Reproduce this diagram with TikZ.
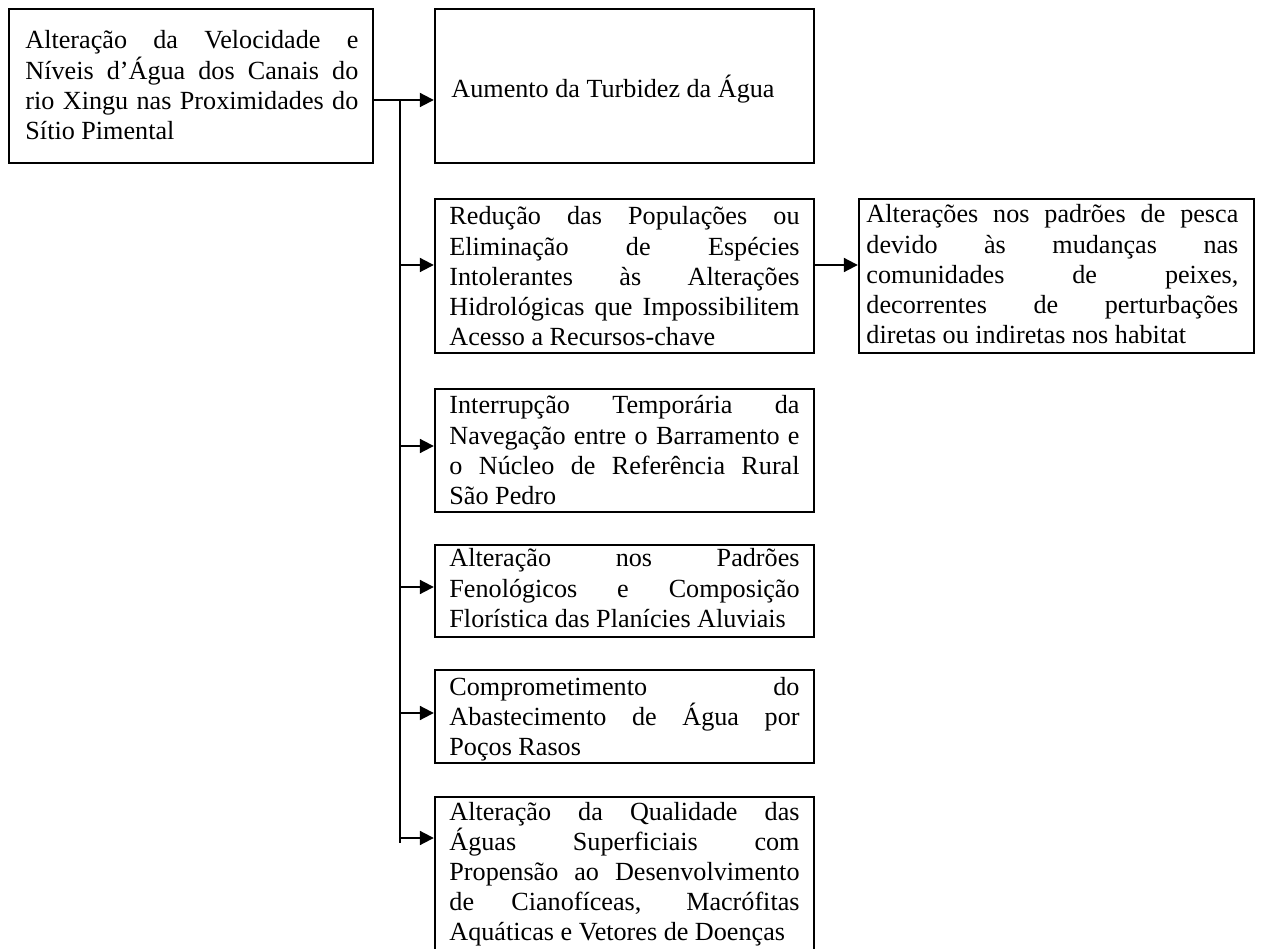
\documentclass[tikz,border=0pt]{standalone}
\usepackage{fontspec}
\setmainfont{Liberation Serif}
\usetikzlibrary{arrows.meta,fit}
\begin{document}
\begin{tikzpicture}[x=0.4587pt, y=-0.4587pt,
  box/.style={draw, line width=1.1pt, inner sep=0pt, rectangle},
  txt/.style={anchor=base west, inner sep=0pt, align=justify,
    font=\fontsize{12pt}{13.8pt}\selectfont},
  conn/.style={line width=0.9pt},
  arr/.style={conn, -{Triangle[length=6.4pt, width=6.4pt]}}]
\useasboundingbox (0,0) rectangle (1261,949);

% boxes
\node[box, fit={(9,9) (373,163)}] (a) {};
\node[box, fit={(435,9) (814,163)}] (b) {};
\node[box, fit={(435,199) (814,353)}] (c) {};
\node[box, fit={(859,199) (1254,353)}] (d) {};
\node[box, fit={(435,389) (814,512)}] (e) {};
\node[box, fit={(435,545) (814,637)}] (f) {};
\node[box, fit={(435,670) (814,763)}] (g) {};
\node[box, fit={(435,797) (814,960)}] (h) {};

% texts
\node[txt, text width=152.7pt] (ta) at (25,49) {Alteração da Velocidade e\linebreak Níveis d’Água dos Canais do\linebreak rio Xingu nas Proximidades do\linebreak Sítio Pimental};
\node[txt] (tb) at (451,98) {Aumento da Turbidez da Água};
\node[txt, text width=160.6pt] (tc) at (449,225) {Redução das Populações ou\linebreak Eliminação de Espécies\linebreak Intolerantes às Alterações\linebreak Hidrológicas que Impossibilitem\linebreak Acesso a Recursos-chave};
\node[txt, text width=170.6pt] (td) at (866,223) {Alterações nos padrões de pesca\linebreak devido às mudanças nas\linebreak comunidades de peixes,\linebreak decorrentes de perturbações\linebreak diretas ou indiretas nos habitat};
\node[txt, text width=160.6pt] (te) at (449,414) {Interrupção Temporária da\linebreak Navegação entre o Barramento e\linebreak o Núcleo de Referência Rural\linebreak São Pedro};
\node[txt, text width=160.6pt] (tf) at (449,567) {Alteração nos Padrões\linebreak Fenológicos e Composição\linebreak Florística das Planícies Aluviais};
\node[txt, text width=160.6pt] (tg) at (449,695) {Comprometimento do\linebreak Abastecimento de Água por\linebreak Poços Rasos};
\node[txt, text width=160.6pt] (th) at (449,820) {Alteração da Qualidade das\linebreak Águas Superficiais com\linebreak Propensão ao Desenvolvimento\linebreak de Cianofíceas, Macrófitas\linebreak Aquáticas e Vetores de Doenças};

% trunk and branch points
\coordinate (j0) at (400,100);
\coordinate (jc) at (400,265);
\coordinate (je) at (400,446);
\coordinate (jf) at (400,587);
\coordinate (jg) at (400,713);
\coordinate (jh) at (400,838);
\coordinate (jend) at (400,843);

% connectors
\draw[arr] (a.east |- j0) -- (b.west |- j0);
\draw[conn] (j0) -- (jend);
\draw[arr] (jc) -- (c.west |- jc);
\draw[arr] (je) -- (e.west |- je);
\draw[arr] (jf) -- (f.west |- jf);
\draw[arr] (jg) -- (g.west |- jg);
\draw[arr] (jh) -- (h.west |- jh);
\draw[arr] (c.east |- jc) -- (d.west |- jc);
\end{tikzpicture}
\end{document}
